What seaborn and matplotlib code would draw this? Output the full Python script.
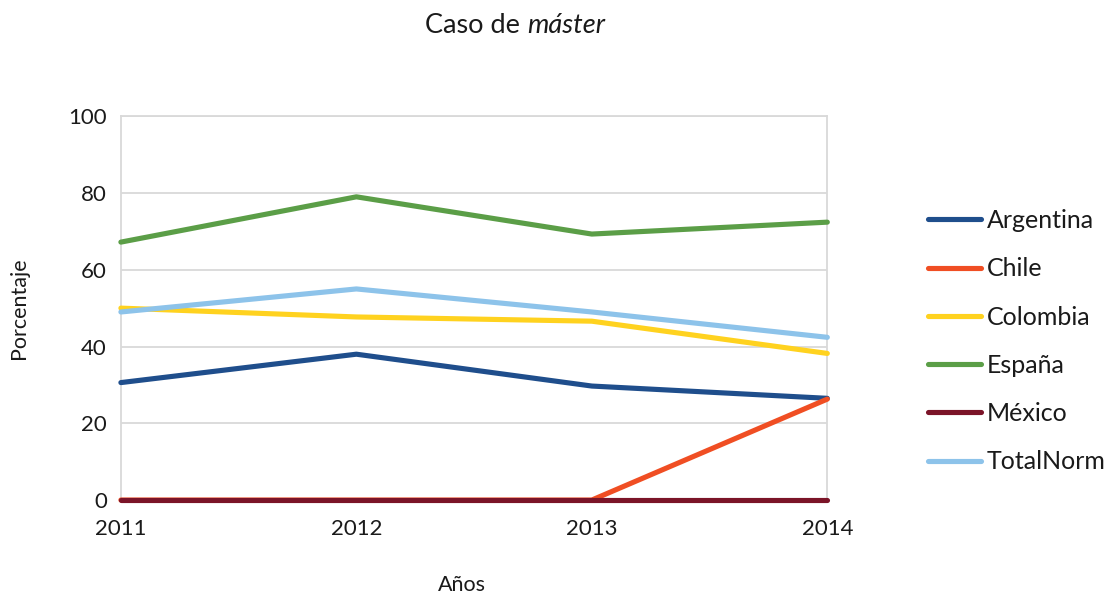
import matplotlib
matplotlib.use("Agg")
import matplotlib.pyplot as plt
import seaborn as sns
import pandas as pd

years = [2011, 2012, 2013, 2014]
argentina = [30.6, 38.0, 29.7, 26.5]
chile = [0, 0, 0, 26.3]
colombia = [50.0, 47.7, 46.6, 38.2]
espana = [67.2, 79.0, 69.3, 72.4]
mexico = [0, 0, 0, 0]
totalnorm = [49.0, 55.0, 49.0, 42.4]

series_names = ["Argentina", "Chile", "Colombia", "España", "México", "TotalNorm"]
series_vals = [argentina, chile, colombia, espana, mexico, totalnorm]
colors = ["#1F4E8C", "#F04E23", "#FFD21F", "#5B9E47", "#7B1428", "#8DC3EA"]

rows = []
for name, vals in zip(series_names, series_vals):
    for y, v in zip(years, vals):
        rows.append({"Año": y, "Porcentaje": v, "Serie": name})
df = pd.DataFrame(rows)

sns.set_theme(style="white")
plt.rcParams["font.family"] = ["Lato", "DejaVu Sans"]

fig = plt.figure(figsize=(11.09, 5.96), dpi=100)
ax = fig.add_axes([0.109, 0.161, 0.637, 0.644])

sns.lineplot(data=df, x="Año", y="Porcentaje", hue="Serie", hue_order=series_names,
             palette=colors, linewidth=3.7, ax=ax, legend=True, clip_on=False, zorder=3)

ax.set_xlim(2011, 2014)
ax.set_ylim(0, 100)
ax.set_xticks(years)
ax.set_xticklabels([str(y) for y in years])
ax.set_yticks([0, 20, 40, 60, 80, 100])
ax.yaxis.grid(True, color="#D9D9D9", linewidth=1.3)
ax.set_axisbelow(True)
for s in ["left", "right", "top", "bottom"]:
    ax.spines[s].set_color("#D9D9D9")
    ax.spines[s].set_linewidth(1.3)
    ax.spines[s].set_zorder(1)
ax.tick_params(axis="both", length=0, labelsize=16, colors="#1a1a1a")
ax.tick_params(axis="x", pad=14)
ax.tick_params(axis="y", pad=10)

ax.set_xlabel("Años", fontsize=15.5, color="#1a1a1a")
ax.set_ylabel("Porcentaje", fontsize=15.5, color="#1a1a1a")
ax.xaxis.set_label_coords(0.483, -0.196)
ax.yaxis.set_label_coords(-0.13, 0.5)

handles, labels = ax.get_legend_handles_labels()
ax.get_legend().remove()
leg = fig.legend(handles, labels, loc="upper left", bbox_to_anchor=(0.8275, 0.666),
                 frameon=False, fontsize=18, handlelength=2.15, handletextpad=0.2,
                 labelspacing=1.01, borderaxespad=0)
for lh in leg.get_lines():
    lh.set_linewidth(3.7)
for t in leg.get_texts():
    t.set_color("#1a1a1a")

fig.text(0.4755, 0.958, "Caso de ", ha="right", va="center", fontsize=19.5, color="#1a1a1a")
fig.text(0.4755, 0.958, "máster", ha="left", va="center", fontsize=19.5, style="italic", color="#1a1a1a")

fig.savefig("out.png", dpi=100)
